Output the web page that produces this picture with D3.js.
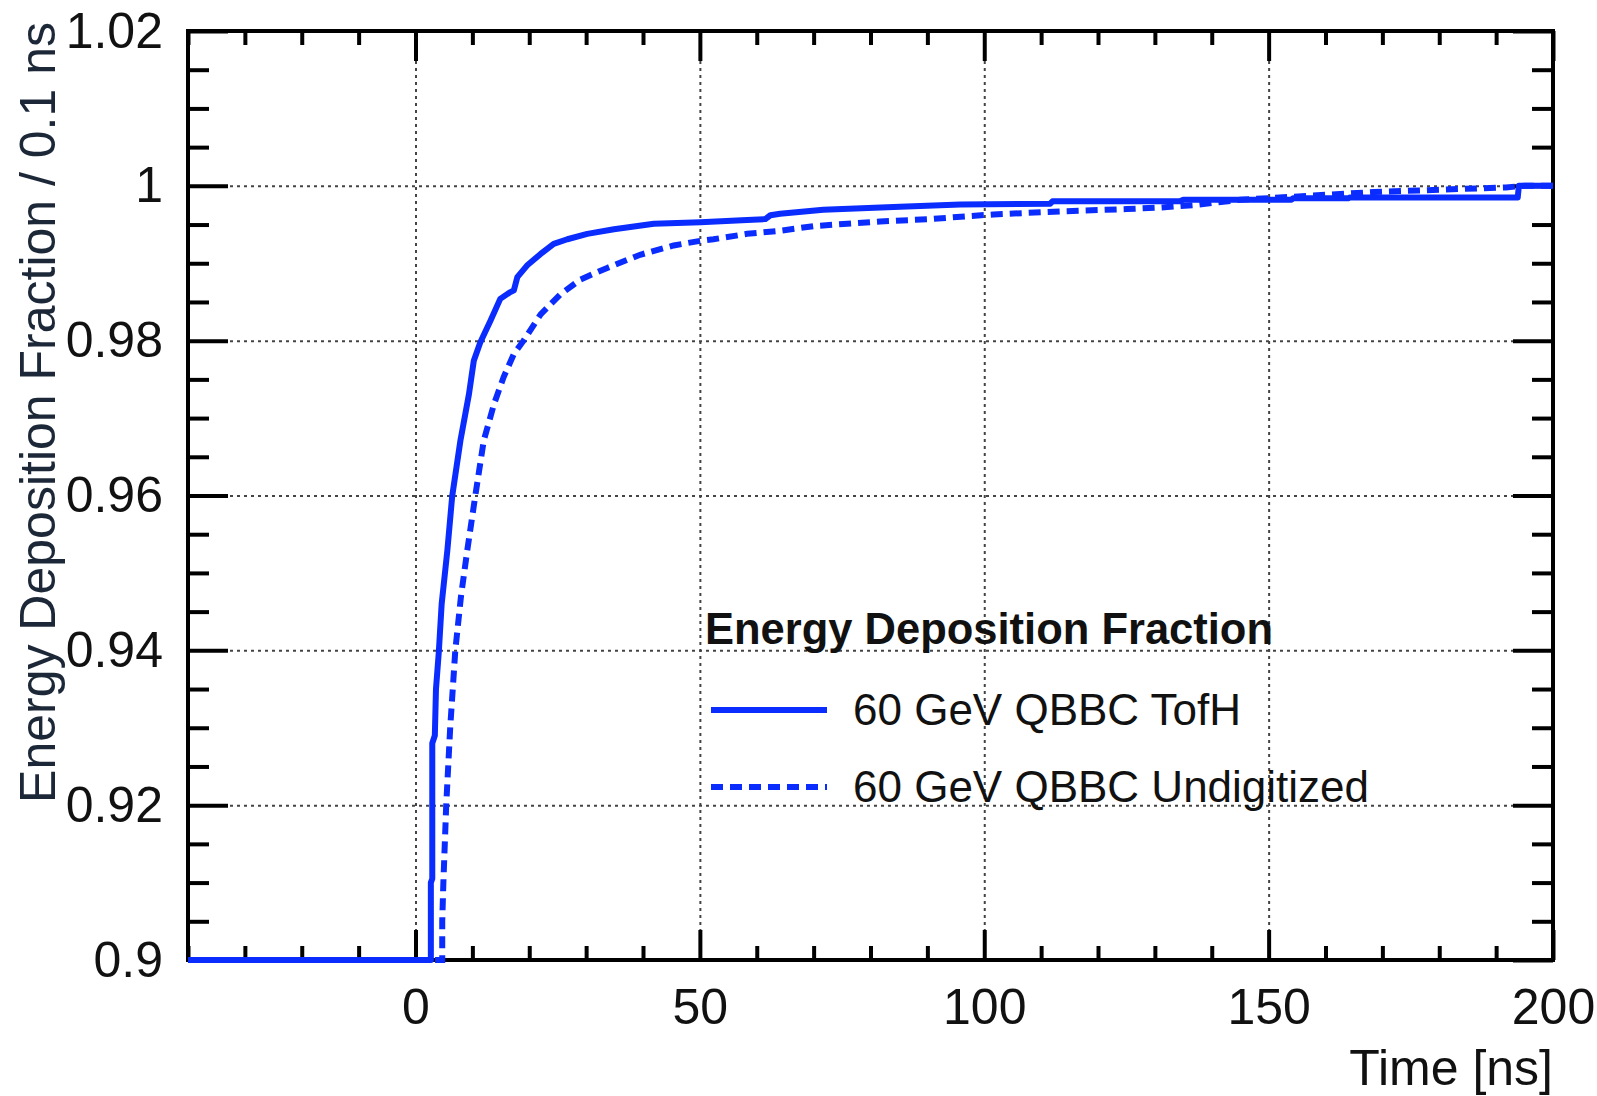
<!DOCTYPE html>
<html>
<head>
<meta charset="utf-8">
<script src="https://cdn.jsdelivr.net/npm/d3@7"></script>
<style>
  body { margin: 0; background: #fff; }
  svg text { font-family: "Liberation Sans", Arial, Helvetica, sans-serif; }
</style>
</head>
<body>
<div id="chart"></div>
<script>
// cumulative energy deposition fraction
const tofhTime = [-40, 2.7, 2.7, 2.95, 2.95, 3.4, 3.6, 4.1, 4.6, 5.6, 6.45, 7.9, 9.4, 10.25, 11.4, 13.2, 14.9, 16.5, 17.3, 17.9,
  19.6, 22.0, 24.3, 26.7, 30.2, 34.9, 41.9, 50.1, 58.3, 61.5, 62.4, 64.1, 71.7, 85.2, 95.8, 111.6, 112, 134.4, 135, 144.5,
  145, 154, 154.3, 164, 164.3, 193.8, 194, 200];
const tofhFrac = [0.9, 0.9, 0.910, 0.9105, 0.928, 0.929, 0.935, 0.9398, 0.946, 0.9529, 0.9599, 0.9671, 0.9731, 0.9774, 0.9798, 0.9826, 0.9854, 0.9862, 0.9865, 0.9882,
  0.9897, 0.9912, 0.9925, 0.9931, 0.9938, 0.9944, 0.9951, 0.9953, 0.9956, 0.9957, 0.9962, 0.9964, 0.9969, 0.9973, 0.9976, 0.9977, 0.9980, 0.9980, 0.9982, 0.9982,
  0.9982, 0.9982, 0.9984, 0.9984, 0.9985, 0.9985, 1.0, 1.0];

const undigTime = [-40, 4.7, 4.7, 4.9, 5.4, 6.1, 7.0, 8.0, 9.1, 10.5, 12.0, 13.8, 15.5, 17.3, 19.0, 22.0, 25.5, 29.0, 33.7, 39.5,
  45.4, 50.1, 52.4, 58.3, 64.1, 70, 75.9, 81.7, 90.5, 97.5, 101.6, 113.4, 125, 131, 136.8, 145, 156.8, 168.4, 180, 191.7, 195, 200];
const undigFrac = [0.9, 0.9, 0.905, 0.91, 0.92, 0.93, 0.94, 0.947, 0.9529, 0.9599, 0.9671, 0.9718, 0.9753, 0.9783, 0.980, 0.9834, 0.986, 0.9879, 0.9894, 0.9911,
  0.9923, 0.9929, 0.9931, 0.9938, 0.9942, 0.9948, 0.9951, 0.9954, 0.9957, 0.9961, 0.9963, 0.9967, 0.9970, 0.9972, 0.9975, 0.9982, 0.9987, 0.9992, 0.9995, 0.9998, 1.0, 1.0];

const seriesNames = ["60 GeV QBBC TofH", "60 GeV QBBC Undigitized"];
const legendTitle = "Energy Deposition Fraction";

const xMajor = [0, 50, 100, 150, 200];
const xGrid = [0, 50, 100, 150];
const yMajor = [0.9, 0.92, 0.94, 0.96, 0.98, 1.0, 1.02];
const yTickLabels = ["0.9", "0.92", "0.94", "0.96", "0.98", "1", "1.02"];
const yGrid = [0.92, 0.94, 0.96, 0.98, 1.0];
const xMinor = d3.range(-40, 201, 10).filter(v => v % 50 !== 0);
const yMinor = d3.range(0, 25).map(i => 0.9 + i * 0.005).filter((v, i) => i % 4 !== 0);

const W = 1597, H = 1096;
const margin = { top: 31, right: 44, bottom: 136, left: 188 };
const width = W - margin.left - margin.right;
const height = H - margin.top - margin.bottom;
const blue = "#0a2cff";
const ink = "#111";

const svg = d3.select("#chart").append("svg")
    .attr("width", W)
    .attr("height", H);
const g = svg.append("g")
    .attr("transform", `translate(${margin.left},${margin.top})`);

const x = d3.scaleLinear().domain([-40, 200]).range([0, width]);
const y = d3.scaleLinear().domain([0.9, 1.02]).range([height, 0]);

// dotted grid
g.append("g")
    .attr("transform", `translate(0,${height})`)
    .call(d3.axisBottom(x).tickValues(xGrid).tickSize(-height).tickFormat(""))
    .call(s => s.select(".domain").remove())
    .selectAll("line")
    .attr("stroke", "#444").attr("stroke-width", 2).attr("stroke-dasharray", "3,4");
g.append("g")
    .call(d3.axisLeft(y).tickValues(yGrid).tickSize(-width).tickFormat(""))
    .call(s => s.select(".domain").remove())
    .selectAll("line")
    .attr("stroke", "#444").attr("stroke-width", 2).attr("stroke-dasharray", "3,4");

// ticks on all four sides, pointing inward
function ticks(axis, transform) {
    const a = g.append("g").attr("transform", transform).call(axis);
    a.select(".domain").remove();
    a.selectAll("line").attr("stroke", "#000").attr("stroke-width", 4);
    a.selectAll("text").attr("fill", ink).style("font-size", "50px");
    return a;
}
ticks(d3.axisBottom(x).tickValues(xMajor).tickSize(-30).tickPadding(28).tickFormat(d3.format("d")), `translate(0,${height})`);
ticks(d3.axisBottom(x).tickValues(xMinor).tickSize(-14).tickFormat(""), `translate(0,${height})`);
ticks(d3.axisTop(x).tickValues(xMajor).tickSize(-30).tickFormat(""), "translate(0,0)");
ticks(d3.axisTop(x).tickValues(xMinor).tickSize(-14).tickFormat(""), "translate(0,0)");
ticks(d3.axisLeft(y).tickValues(yMajor).tickSize(-40).tickPadding(25).tickFormat((d, i) => yTickLabels[i]), "translate(0,0)");
ticks(d3.axisLeft(y).tickValues(yMinor).tickSize(-21).tickFormat(""), "translate(0,0)");
ticks(d3.axisRight(y).tickValues(yMajor).tickSize(-40).tickFormat(""), `translate(${width},0)`);
ticks(d3.axisRight(y).tickValues(yMinor).tickSize(-21).tickFormat(""), `translate(${width},0)`);

// frame
g.append("rect")
    .attr("width", width)
    .attr("height", height)
    .attr("fill", "none")
    .attr("stroke", "#000")
    .attr("stroke-width", 4);

// curves
const line = d3.line().x(d => x(d[0])).y(d => y(d[1]));
g.append("path")
    .datum(d3.zip(undigTime, undigFrac))
    .attr("d", line)
    .attr("fill", "none")
    .attr("stroke", blue)
    .attr("stroke-width", 6)
    .attr("stroke-dasharray", "12,7");
g.append("path")
    .datum(d3.zip(tofhTime, tofhFrac))
    .attr("d", line)
    .attr("fill", "none")
    .attr("stroke", blue)
    .attr("stroke-width", 6)
    .attr("stroke-linejoin", "round");

// axis titles
svg.append("text")
    .attr("x", W - margin.right)
    .attr("y", 1085)
    .attr("text-anchor", "end")
    .style("font-size", "50px")
    .attr("fill", ink)
    .text("Time [ns]");
svg.append("text")
    .attr("transform", "translate(55,22) rotate(-90)")
    .attr("text-anchor", "end")
    .style("font-size", "50px")
    .attr("fill", "#1c2838")
    .text("Energy Deposition Fraction / 0.1 ns");

// legend
svg.append("text")
    .attr("x", 705)
    .attr("y", 644)
    .style("font-size", "43.5px")
    .style("font-weight", "bold")
    .attr("fill", ink)
    .text(legendTitle);
const legY = [710, 787];
const dashes = [null, "12,7"];
seriesNames.forEach((name, i) => {
    svg.append("line")
        .attr("x1", 711).attr("x2", 827)
        .attr("y1", legY[i]).attr("y2", legY[i])
        .attr("stroke", blue)
        .attr("stroke-width", 6)
        .attr("stroke-dasharray", dashes[i]);
    svg.append("text")
        .attr("x", 853)
        .attr("y", legY[i] + 15)
        .style("font-size", "44px")
        .attr("fill", ink)
        .text(name);
});
</script>
</body>
</html>
